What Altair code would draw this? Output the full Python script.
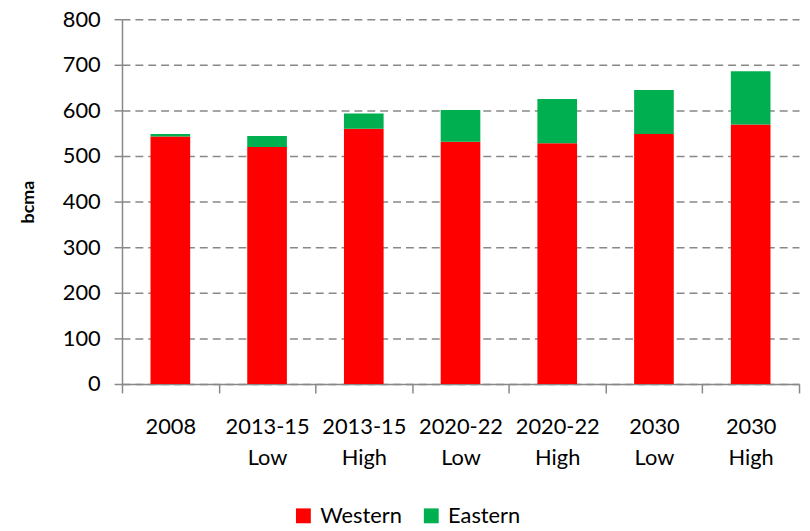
import altair as alt
import pandas as pd

categories = ["2008", "2013-15 Low", "2013-15 High", "2020-22 Low", "2020-22 High", "2030 Low", "2030 High"]
western = [543, 520, 560, 531, 528, 548, 569]
eastern = [5, 24, 33, 70, 97, 97, 117]
series = ["Western", "Eastern"]
colors = ["#FF0000", "#00B050"]

rows = []
for c, w, e in zip(categories, western, eastern):
    rows.append({"cat": c, "series": "Western", "value": w, "ord": 0})
    rows.append({"cat": c, "series": "Eastern", "value": e, "ord": 1})
df = pd.DataFrame(rows)

FONT = "Lato"

chart = alt.Chart(df).mark_bar(width=alt.RelativeBandSize(0.41)).encode(
    x=alt.X("cat:N", sort=categories,
            scale=alt.Scale(paddingInner=0, paddingOuter=0),
            axis=alt.Axis(title=None, labelAngle=0, tickBand="extent",
                          labelExpr="split(datum.label, ' ')",
                          labelFont=FONT, labelFontSize=22, labelColor="#000000",
                          labelLineHeight=31, labelPadding=24,
                          tickSize=9, tickColor="#888888", tickWidth=1.5,
                          domainColor="#888888", domainWidth=1.5, grid=False)),
    y=alt.Y("value:Q", stack="zero",
            scale=alt.Scale(domain=[0, 800], nice=False),
            axis=alt.Axis(title="bcma", values=list(range(0, 801, 100)),
                          titleFont=FONT, titleFontSize=18, titleFontWeight="bold",
                          titleColor="#000000", titleX=-94, titleY=184,
                          titleAngle=-90, titleAlign="center", titleBaseline="middle",
                          labelFont=FONT, labelFontSize=22, labelColor="#000000",
                          labelPadding=14, tickSize=8, tickColor="#888888", tickWidth=1.5,
                          domainColor="#888888", domainWidth=1.5,
                          grid=True, gridColor="#888888", gridWidth=1.5, gridDash=[8, 5])),
    color=alt.Color("series:N",
                    scale=alt.Scale(domain=series, range=colors),
                    legend=alt.Legend(title=None, orient="none", legendX=172, legendY=490,
                                      direction="horizontal", symbolType="square",
                                      symbolSize=225, symbolStrokeWidth=0,
                                      labelFont=FONT, labelFontSize=22, labelColor="#000000",
                                      labelOffset=6, columnPadding=18)),
    order=alt.Order("ord:Q", sort="ascending"),
).properties(
    width=683, height=368,
    autosize=alt.AutoSizeParams(type="none"),
    padding={"left": 115, "top": 9, "right": 3, "bottom": 146},
).configure_view(stroke=None)

chart.save("out.html", embed_options={"renderer": "svg", "actions": False})
